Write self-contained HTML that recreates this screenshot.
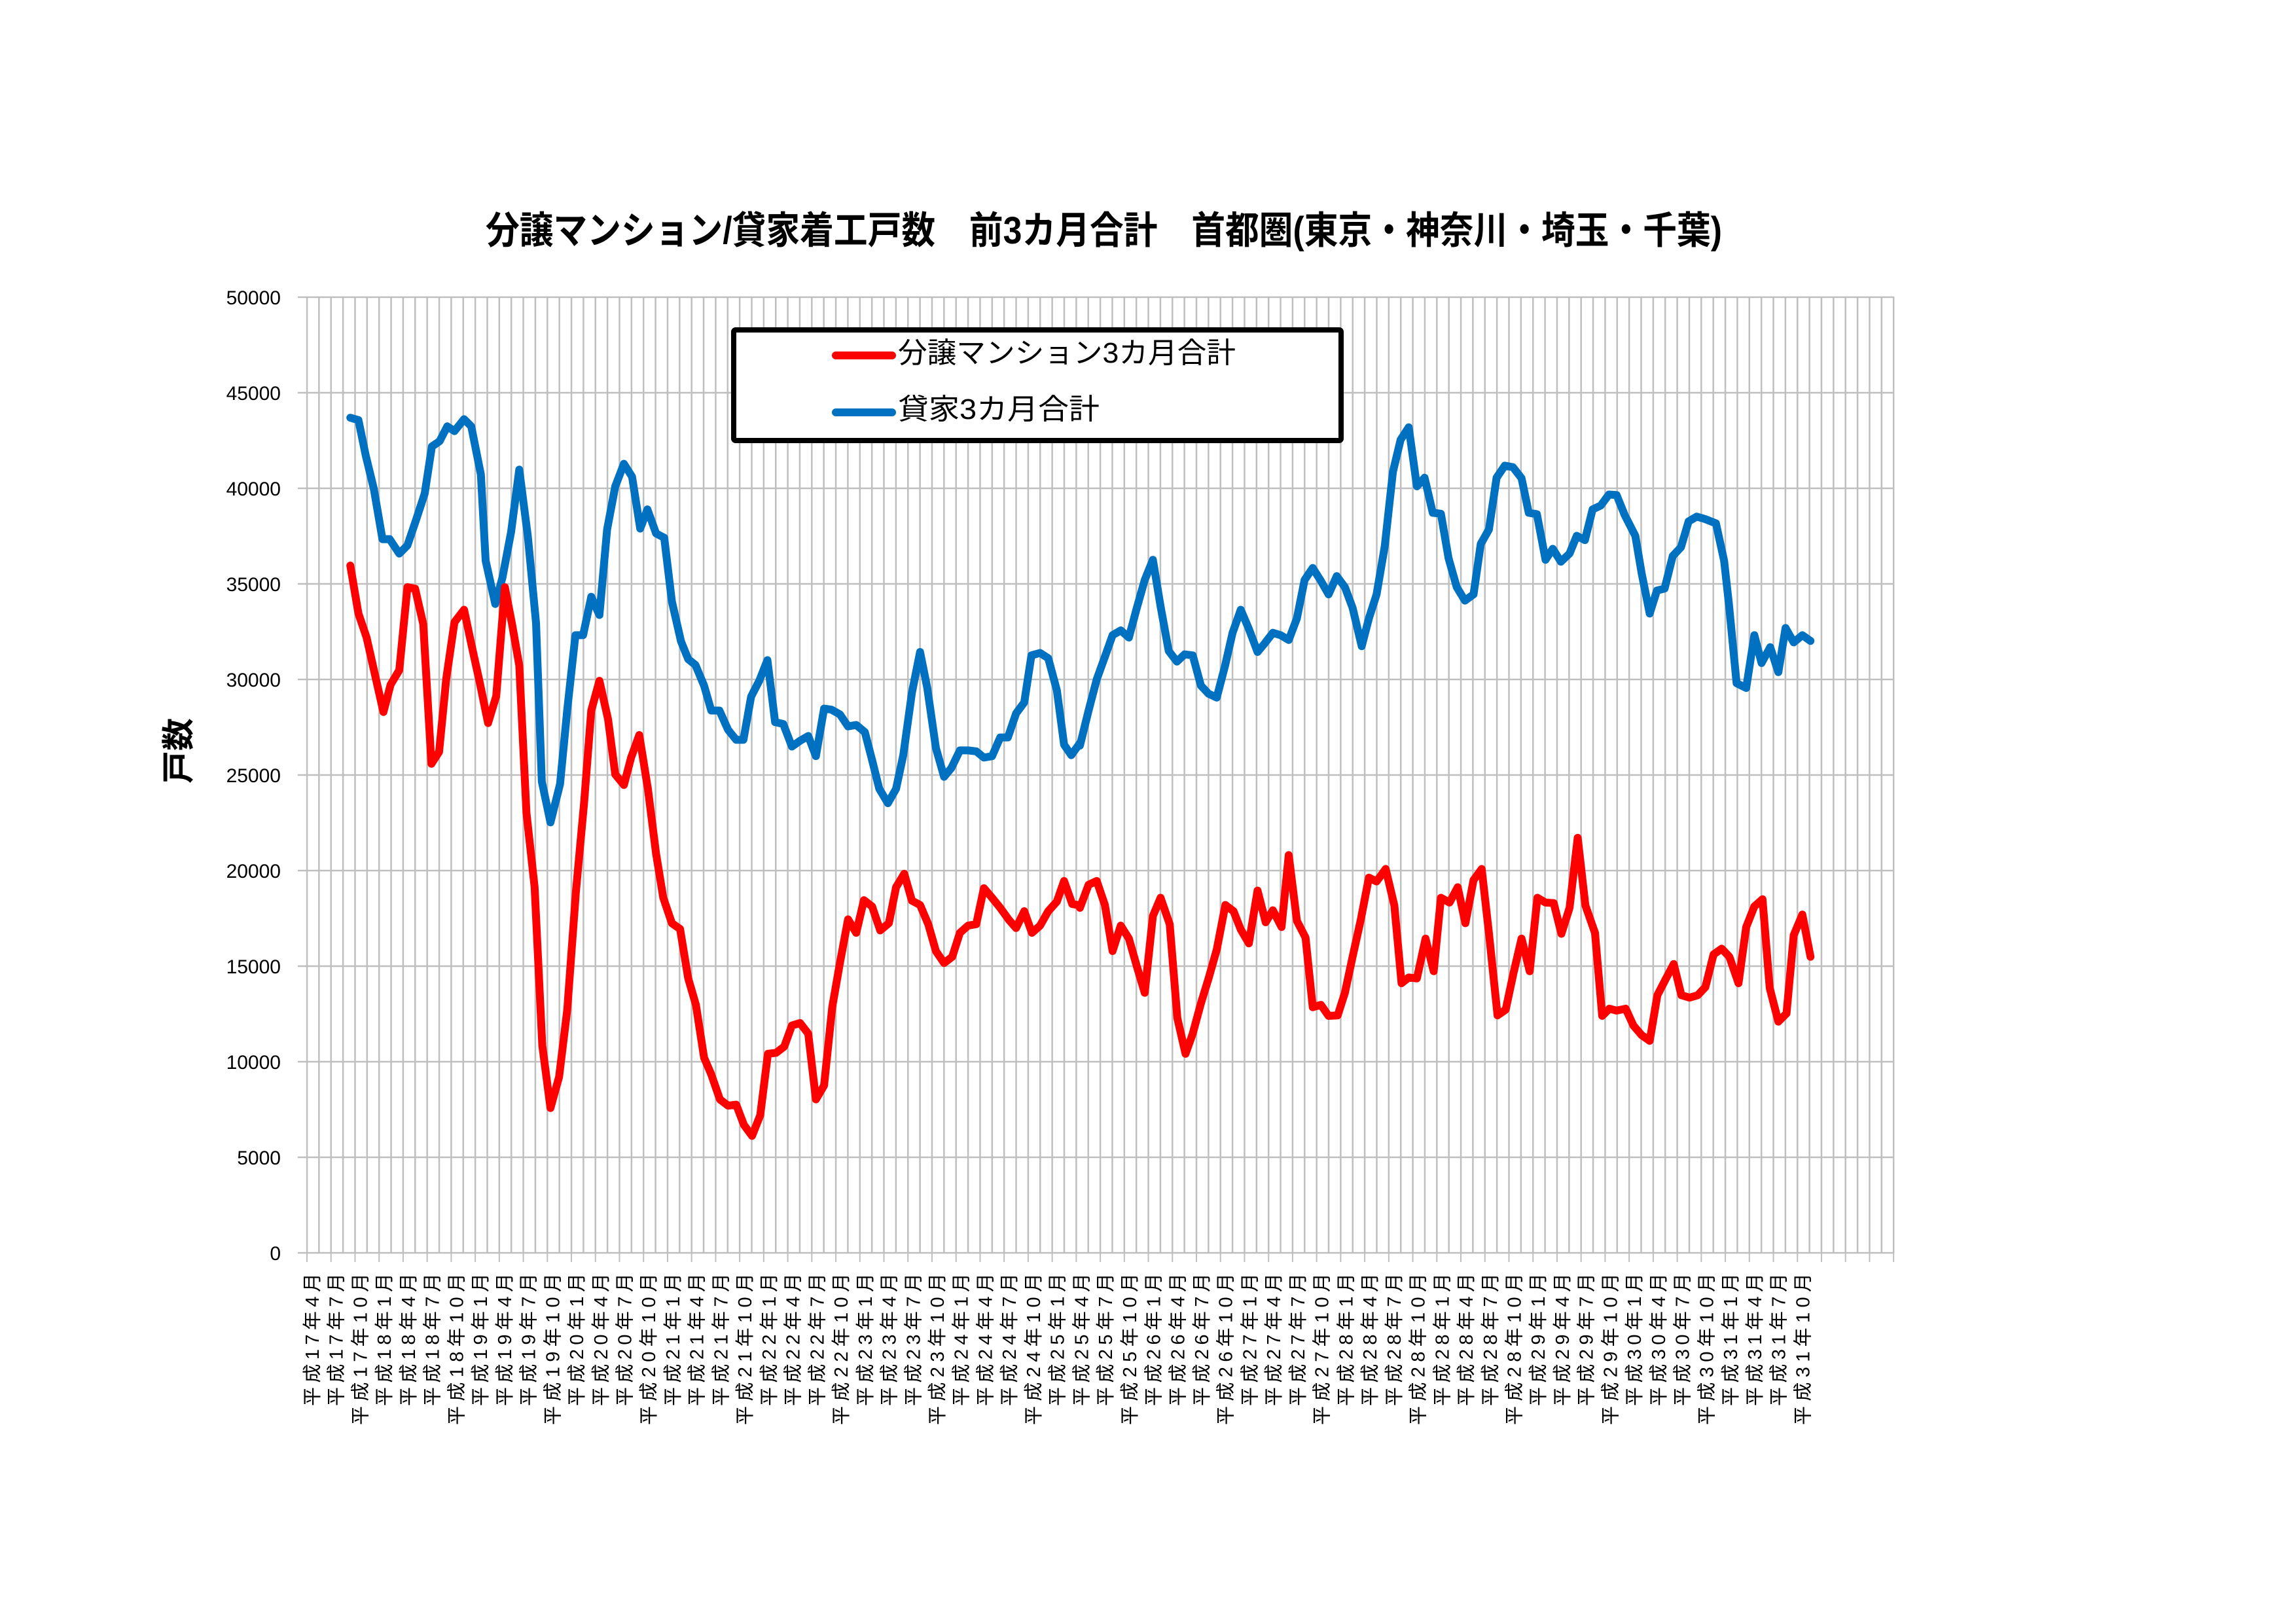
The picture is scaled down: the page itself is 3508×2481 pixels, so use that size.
<!DOCTYPE html>
<html><head><meta charset="utf-8"><style>
html,body{margin:0;padding:0;background:#fff;}
svg{display:block;}
</style></head><body>
<svg xmlns="http://www.w3.org/2000/svg" width="3508" height="2481" viewBox="0 0 3508 2481">
<defs>
<pattern id="vg" patternUnits="userSpaceOnUse" x="467.75" y="0" width="18.365" height="2481"><rect x="0" y="0" width="2.5" height="2481" fill="#BFBFBF"/></pattern>
<pattern id="tk" patternUnits="userSpaceOnUse" x="468" y="0" width="36.73" height="2481"><rect x="0" y="0" width="2" height="2481" fill="#BFBFBF"/></pattern>
</defs>
<rect width="3508" height="2481" fill="#fff"/>
<text x="742" y="372" font-family="'Liberation Sans','Noto Sans CJK JP',sans-serif" font-weight="bold" font-size="58" textLength="1889" lengthAdjust="spacingAndGlyphs" fill="#000">分譲マンション/貸家着工戸数　前3カ月合計　首都圏(東京・神奈川・埼玉・千葉)</text>
<rect x="467.75" y="454" width="2427" height="1460" fill="url(#vg)"/>
<rect x="468" y="1914" width="2427" height="14" fill="url(#tk)"/>
<g stroke="#BFBFBF" stroke-width="2.5">
<line x1="455" y1="454" x2="2894" y2="454"/>
<line x1="455" y1="600" x2="2894" y2="600"/>
<line x1="455" y1="746" x2="2894" y2="746"/>
<line x1="455" y1="892" x2="2894" y2="892"/>
<line x1="455" y1="1038" x2="2894" y2="1038"/>
<line x1="455" y1="1184" x2="2894" y2="1184"/>
<line x1="455" y1="1330" x2="2894" y2="1330"/>
<line x1="455" y1="1476" x2="2894" y2="1476"/>
<line x1="455" y1="1622" x2="2894" y2="1622"/>
<line x1="455" y1="1768" x2="2894" y2="1768"/>
<line x1="455" y1="1914" x2="2894" y2="1914"/>
</g>
<g font-family="'Liberation Sans',sans-serif" font-size="30" text-anchor="end" fill="#000">
<text x="429" y="465">50000</text>
<text x="429" y="611">45000</text>
<text x="429" y="757">40000</text>
<text x="429" y="903">35000</text>
<text x="429" y="1049">30000</text>
<text x="429" y="1195">25000</text>
<text x="429" y="1341">20000</text>
<text x="429" y="1487">15000</text>
<text x="429" y="1633">10000</text>
<text x="429" y="1779">5000</text>
<text x="429" y="1925">0</text>
</g>
<text transform="translate(290,1147) rotate(-90)" text-anchor="middle" font-family="'Liberation Sans','Noto Sans CJK JP',sans-serif" font-weight="bold" font-size="50" fill="#000">戸数</text>
<g font-family="'Liberation Sans','Noto Sans CJK JP',sans-serif" font-size="29" fill="#000" text-anchor="end" lengthAdjust="spacingAndGlyphs">
<text transform="translate(487.0,1945) rotate(-90)" textLength="203">平成17年4月</text>
<text transform="translate(523.7,1945) rotate(-90)" textLength="203">平成17年7月</text>
<text transform="translate(560.5,1945) rotate(-90)" textLength="232">平成17年10月</text>
<text transform="translate(597.2,1945) rotate(-90)" textLength="203">平成18年1月</text>
<text transform="translate(633.9,1945) rotate(-90)" textLength="203">平成18年4月</text>
<text transform="translate(670.7,1945) rotate(-90)" textLength="203">平成18年7月</text>
<text transform="translate(707.4,1945) rotate(-90)" textLength="232">平成18年10月</text>
<text transform="translate(744.1,1945) rotate(-90)" textLength="203">平成19年1月</text>
<text transform="translate(780.8,1945) rotate(-90)" textLength="203">平成19年4月</text>
<text transform="translate(817.6,1945) rotate(-90)" textLength="203">平成19年7月</text>
<text transform="translate(854.3,1945) rotate(-90)" textLength="232">平成19年10月</text>
<text transform="translate(891.0,1945) rotate(-90)" textLength="203">平成20年1月</text>
<text transform="translate(927.8,1945) rotate(-90)" textLength="203">平成20年4月</text>
<text transform="translate(964.5,1945) rotate(-90)" textLength="203">平成20年7月</text>
<text transform="translate(1001.2,1945) rotate(-90)" textLength="232">平成20年10月</text>
<text transform="translate(1038.0,1945) rotate(-90)" textLength="203">平成21年1月</text>
<text transform="translate(1074.7,1945) rotate(-90)" textLength="203">平成21年4月</text>
<text transform="translate(1111.4,1945) rotate(-90)" textLength="203">平成21年7月</text>
<text transform="translate(1148.1,1945) rotate(-90)" textLength="232">平成21年10月</text>
<text transform="translate(1184.9,1945) rotate(-90)" textLength="203">平成22年1月</text>
<text transform="translate(1221.6,1945) rotate(-90)" textLength="203">平成22年4月</text>
<text transform="translate(1258.3,1945) rotate(-90)" textLength="203">平成22年7月</text>
<text transform="translate(1295.1,1945) rotate(-90)" textLength="232">平成22年10月</text>
<text transform="translate(1331.8,1945) rotate(-90)" textLength="203">平成23年1月</text>
<text transform="translate(1368.5,1945) rotate(-90)" textLength="203">平成23年4月</text>
<text transform="translate(1405.3,1945) rotate(-90)" textLength="203">平成23年7月</text>
<text transform="translate(1442.0,1945) rotate(-90)" textLength="232">平成23年10月</text>
<text transform="translate(1478.7,1945) rotate(-90)" textLength="203">平成24年1月</text>
<text transform="translate(1515.4,1945) rotate(-90)" textLength="203">平成24年4月</text>
<text transform="translate(1552.2,1945) rotate(-90)" textLength="203">平成24年7月</text>
<text transform="translate(1588.9,1945) rotate(-90)" textLength="232">平成24年10月</text>
<text transform="translate(1625.6,1945) rotate(-90)" textLength="203">平成25年1月</text>
<text transform="translate(1662.4,1945) rotate(-90)" textLength="203">平成25年4月</text>
<text transform="translate(1699.1,1945) rotate(-90)" textLength="203">平成25年7月</text>
<text transform="translate(1735.8,1945) rotate(-90)" textLength="232">平成25年10月</text>
<text transform="translate(1772.6,1945) rotate(-90)" textLength="203">平成26年1月</text>
<text transform="translate(1809.3,1945) rotate(-90)" textLength="203">平成26年4月</text>
<text transform="translate(1846.0,1945) rotate(-90)" textLength="203">平成26年7月</text>
<text transform="translate(1882.7,1945) rotate(-90)" textLength="232">平成26年10月</text>
<text transform="translate(1919.5,1945) rotate(-90)" textLength="203">平成27年1月</text>
<text transform="translate(1956.2,1945) rotate(-90)" textLength="203">平成27年4月</text>
<text transform="translate(1992.9,1945) rotate(-90)" textLength="203">平成27年7月</text>
<text transform="translate(2029.7,1945) rotate(-90)" textLength="232">平成27年10月</text>
<text transform="translate(2066.4,1945) rotate(-90)" textLength="203">平成28年1月</text>
<text transform="translate(2103.1,1945) rotate(-90)" textLength="203">平成28年4月</text>
<text transform="translate(2139.9,1945) rotate(-90)" textLength="203">平成28年7月</text>
<text transform="translate(2176.6,1945) rotate(-90)" textLength="232">平成28年10月</text>
<text transform="translate(2213.3,1945) rotate(-90)" textLength="203">平成28年1月</text>
<text transform="translate(2250.0,1945) rotate(-90)" textLength="203">平成28年4月</text>
<text transform="translate(2286.8,1945) rotate(-90)" textLength="203">平成28年7月</text>
<text transform="translate(2323.5,1945) rotate(-90)" textLength="232">平成28年10月</text>
<text transform="translate(2360.2,1945) rotate(-90)" textLength="203">平成29年1月</text>
<text transform="translate(2397.0,1945) rotate(-90)" textLength="203">平成29年4月</text>
<text transform="translate(2433.7,1945) rotate(-90)" textLength="203">平成29年7月</text>
<text transform="translate(2470.4,1945) rotate(-90)" textLength="232">平成29年10月</text>
<text transform="translate(2507.2,1945) rotate(-90)" textLength="203">平成30年1月</text>
<text transform="translate(2543.9,1945) rotate(-90)" textLength="203">平成30年4月</text>
<text transform="translate(2580.6,1945) rotate(-90)" textLength="203">平成30年7月</text>
<text transform="translate(2617.3,1945) rotate(-90)" textLength="232">平成30年10月</text>
<text transform="translate(2654.1,1945) rotate(-90)" textLength="203">平成31年1月</text>
<text transform="translate(2690.8,1945) rotate(-90)" textLength="203">平成31年4月</text>
<text transform="translate(2727.5,1945) rotate(-90)" textLength="203">平成31年7月</text>
<text transform="translate(2764.3,1945) rotate(-90)" textLength="232">平成31年10月</text>
</g>

<g fill="none" stroke-linejoin="round" stroke-linecap="round">
<g transform="translate(500,600) scale(0.7334)" stroke-width="16.4">
<polyline stroke="#0070C0" points="48,52 65,57 80,130 97,200 115,305 130,305 150,335 167,318 185,265 203,210 218,112 234,101 250,70 265,80 285,55 300,70 320,170 330,350 350,440 365,385 383,290 400,160 418,300 435,480 447,810 465,895 485,815 500,660 517,505 533,505 550,425 567,463 583,285 600,195 618,148 635,175 652,283 667,243 685,293 702,302 718,435 737,518 752,555 767,567 785,610 800,662 817,662 835,702 852,723 867,723 883,633 900,600 917,557 933,686 950,690 968,737 985,725 1002,715 1018,757 1035,658 1050,660 1068,670 1085,695 1102,692 1120,707 1135,765 1150,825 1168,855 1185,825 1200,755 1218,625 1235,540 1250,615 1268,740 1285,800 1300,782 1318,745 1335,745 1352,747 1368,760 1385,757 1402,718 1418,718 1435,668 1452,645 1467,547 1485,542 1502,553 1520,620 1535,733 1550,755 1568,730"/>
<polyline stroke="#FF0000" points="48,360 65,460 82,510 100,590 117,665 132,608 150,578 167,405 183,408 200,482 217,773 233,748 248,595 265,478 285,452 300,523 318,605 335,688 352,632 370,405 385,482 400,568 415,875 432,1030 448,1360 465,1490 483,1425 500,1285 518,1040 535,855 550,662 567,600 585,680 600,795 618,817 633,760 650,713 668,825 685,960 700,1052 718,1105 735,1117 752,1220 768,1275 785,1385 800,1420 818,1472 835,1485 852,1483 868,1525 885,1548 902,1505 918,1377 935,1375 952,1362 968,1318 985,1313 1002,1335 1018,1472 1035,1443 1052,1280 1068,1188 1085,1097 1102,1125 1118,1057 1135,1070 1152,1120 1170,1105 1185,1030 1202,1002 1218,1058 1235,1067 1252,1107 1268,1163 1285,1188 1302,1175 1318,1125 1335,1110 1352,1107 1368,1032 1385,1052 1402,1073 1420,1098 1435,1115 1452,1080 1468,1125 1485,1110 1502,1080 1520,1060 1535,1017 1552,1065 1568,1068"/>
</g>
<g transform="translate(1650,600) scale(0.7334)" stroke-width="16.4">
<polyline stroke="#0070C0" points="0,735 18,662 35,597 52,550 68,505 85,495 102,510 118,450 135,390 152,348 168,445 185,538 202,560 218,545 235,547 252,610 268,627 285,635 302,570 318,500 335,452 352,492 370,540 385,522 402,500 418,505 435,515 452,470 468,390 485,365 502,392 518,420 535,382 552,405 568,448 587,528 602,470 618,420 635,320 652,165 668,98 685,72 702,195 718,177 735,250 752,252 768,345 785,405 802,433 820,420 835,315 852,285 868,177 885,152 902,155 920,178 935,250 952,253 970,348 985,325 1002,352 1020,335 1035,298 1052,307 1068,243 1085,235 1102,212 1118,213 1135,255 1157,298 1170,375 1187,460 1202,412 1218,408 1235,340 1252,322 1268,268 1285,258 1302,263 1325,272 1342,350 1352,440 1368,605 1388,615 1405,505 1420,563 1438,530 1455,582 1470,490 1487,520 1505,505 1522,517"/>
<polyline stroke="#FF0000" points="0,1073 18,1025 35,1017 52,1067 68,1163 85,1110 102,1137 118,1193 135,1250 152,1090 168,1052 187,1107 203,1303 220,1377 235,1335 252,1272 268,1220 285,1160 303,1067 320,1080 335,1118 352,1147 370,1037 387,1103 402,1078 420,1113 435,963 452,1100 470,1135 485,1280 502,1275 518,1298 537,1297 552,1250 568,1175 585,1098 602,1010 618,1018 637,992 655,1068 670,1230 685,1218 702,1220 720,1137 737,1205 752,1052 770,1062 787,1030 803,1105 820,1015 837,992 852,1125 870,1297 887,1285 903,1210 920,1137 937,1205 953,1052 970,1062 987,1063 1003,1127 1020,1073 1037,927 1053,1068 1073,1125 1088,1298 1103,1283 1118,1287 1137,1283 1153,1318 1170,1338 1187,1350 1203,1255 1220,1222 1237,1190 1253,1255 1270,1260 1287,1255 1303,1238 1320,1170 1337,1158 1353,1175 1372,1230 1388,1113 1405,1070 1422,1055 1437,1240 1455,1310 1472,1293 1487,1130 1505,1087 1522,1175"/>
</g>
</g>

<rect x="1121" y="504" width="928" height="169" fill="#fff" stroke="#000" stroke-width="8" rx="3"/>
<line x1="1277" y1="543" x2="1363" y2="543" stroke="#FF0000" stroke-width="12" stroke-linecap="round"/>
<line x1="1277" y1="630" x2="1363" y2="630" stroke="#0070C0" stroke-width="12" stroke-linecap="round"/>
<text x="1372" y="554" font-family="'Liberation Sans','Noto Sans CJK JP',sans-serif" font-size="44" textLength="516" lengthAdjust="spacingAndGlyphs" fill="#000">分譲マンション3カ月合計</text>
<text x="1372" y="640" font-family="'Liberation Sans','Noto Sans CJK JP',sans-serif" font-size="44" textLength="308" lengthAdjust="spacingAndGlyphs" fill="#000">貸家3カ月合計</text>
</svg>
</body></html>
